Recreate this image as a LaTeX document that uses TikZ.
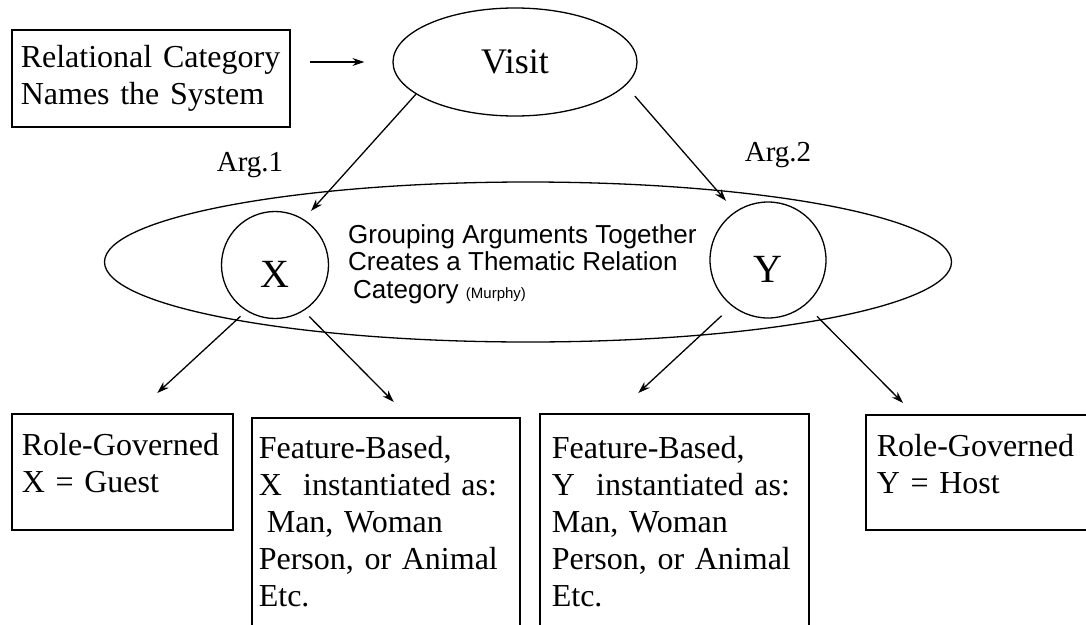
\documentclass[tikz,border=0pt]{standalone}
\usepackage{fontspec}
\setmainfont{Liberation Serif}
\setsansfont{Liberation Sans}
\usetikzlibrary{arrows.meta, positioning, shapes.geometric}
\newcommand{\boxfont}{\fontsize{32}{37}\selectfont}
\newcommand{\visitfont}{\fontsize{36}{40}\selectfont}
\newcommand{\xyfont}{\fontsize{40}{44}\selectfont}
\newcommand{\labfont}{\fontsize{29}{34}\selectfont}
\newcommand{\grpfont}{\sffamily\fontsize{26}{27.5}\selectfont}

\begin{document}
\begin{tikzpicture}[x=1pt, y=-1pt, >={Stealth[length=12pt, width=8pt]},
    txtbox/.style={draw, line width=1.6pt, anchor=north west, align=left, font=\boxfont, inner ysep=0pt},
    argnode/.style={draw, circle, line width=1.3pt, font=\xyfont, text height=44pt, text depth=0pt},
    conn/.style={->, line width=1.3pt}]
    \useasboundingbox (0,0) rectangle (1086,624);
    \clip (0,0) rectangle (1086,624);

    % top row
    \node[txtbox, text width=260pt, inner xsep=9pt, minimum height=97pt] (sysbox) at (11,29) {Relational Category\\Names the System};
    \node[draw, ellipse, line width=1.3pt, minimum width=244pt, minimum height=108pt, font=\visitfont] (visit) at (515,62) {Visit};

    % grouping of the two arguments
    \node[draw, ellipse, line width=1.3pt, minimum width=847pt, minimum height=160pt] (group) at (528,262) {};
    \node[argnode, minimum size=107pt] (argx) at (275,265) {X};
    \node[argnode, minimum size=116pt] (argy) at (768,260) {Y};
    \node[font=\labfont] (arg1) at (250,165) {Arg.1};
    \node[font=\labfont] (arg2) at (778,155) {Arg.2};
    \node[anchor=west, align=left, font=\grpfont, inner sep=0pt] (grptext) at (348,264)
        {Grouping Arguments Together\\Creates a Thematic Relation\\\hspace*{5pt}Category {\fontsize{15}{18}\selectfont(Murphy)}};

    % bottom row
    \node[txtbox, text width=201pt, inner xsep=10pt, minimum height=116pt, text depth=54pt] (guestbox) at (11,413) {Role-Governed\\X = Guest};
    \node[txtbox, text width=254pt, inner xsep=7pt, inner ysep=18pt] (featx) at (251,417)
        {Feature-Based,\\X\ \ instantiated as:\\\hspace*{8pt}Man, Woman\\Person, or Animal\\Etc.\\\mbox{}};
    \node[txtbox, text width=245pt, inner xsep=12pt, inner ysep=22pt] (featy) at (539,413)
        {Feature-Based,\\Y\ \ instantiated as:\\Man, Woman\\Person, or Animal\\Etc.\\\mbox{}};
    \node[txtbox, text width=213pt, inner xsep=11pt, minimum height=115pt, text depth=54pt] (hostbox) at (865,414) {Role-Governed\\Y = Host};

    % connectors
    \draw[conn, shorten <=19pt, shorten >=28pt] (sysbox.east |- visit) -- (visit.west);
    \draw[conn, shorten >=11pt] (visit.198) -- (argx.58);
    \draw[conn, shorten <=14pt, shorten >=14pt] (visit.-12) -- (argy.124);
    \foreach \src/\ang/\sh/\dest/\dx/\dy in {argx/238/8/guestbox.north/35/20, argx/302/8/featx.north/8/15,
        argy/232/14/featy.north/-36/20, argy/310/16/hostbox.north west/38/11}
      \draw[conn, shorten <=\sh pt] (\src.\ang) -- ([xshift=\dx pt, yshift=\dy pt]\dest);
\end{tikzpicture}
\end{document}
